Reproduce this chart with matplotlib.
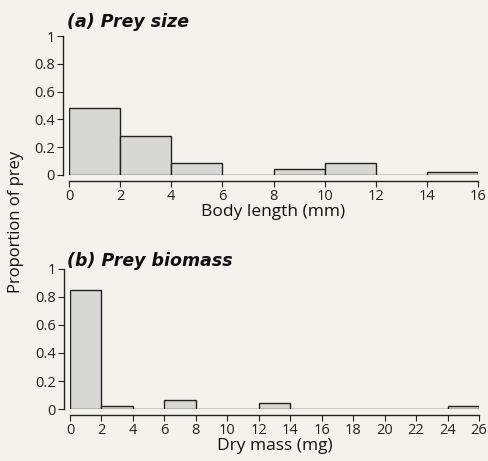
import matplotlib
matplotlib.use("Agg")
import matplotlib.pyplot as plt
import numpy as np

plt.rcParams['font.family'] = ['Open Sans', 'DejaVu Sans']

# Panel (a): body length bins (mm)
len_edges = [0, 2, 4, 6, 8, 10, 12, 14]
len_props = [0.48, 0.283, 0.086, 0.0, 0.042, 0.085, 0.0, 0.019]
len_ticks = [0, 2, 4, 6, 8, 10, 12, 14, 16]

# Panel (b): dry mass bins (mg)
mass_edges = [0, 2, 4, 6, 8, 10, 12, 14, 16, 18, 20, 22, 24]
mass_props = [0.847, 0.02, 0.0, 0.064, 0.0, 0.0, 0.045, 0.0, 0.0, 0.0, 0.0, 0.0, 0.02]
mass_ticks = list(range(0, 27, 2))

y_ticks = [0, 0.2, 0.4, 0.6, 0.8, 1]
y_labels = ["0", "0.2", "0.4", "0.6", "0.8", "1"]

bg = "#f3f2ec"
W, H = 488, 461
fig = plt.figure(figsize=(W/100, H/100), dpi=100, facecolor=bg)

def make_ax(l, r, b, t):
    return fig.add_axes([l/W, 1-b/H, (r-l)/W, (b-t)/H])

ax1 = make_ax(69, 478, 175, 36)
ax2 = make_ax(70, 479, 409, 269)

def style(ax, edges, props, ticks, xmax, xlabel):
    ax.set_facecolor(bg)
    ax.bar(edges, props, width=2, align='edge', color="#d7d7d3",
           edgecolor="#222222", linewidth=1.0)
    ax.set_xlim(0, xmax)
    ax.set_ylim(0, 1)
    for s in ['top', 'right']:
        ax.spines[s].set_visible(False)
    ax.spines['left'].set_position(('outward', 4.3))
    ax.spines['bottom'].set_position(('outward', 4.3))
    for s in ['left', 'bottom']:
        ax.spines[s].set_linewidth(1.0)
        ax.spines[s].set_color("#222222")
    ax.set_xticks(ticks)
    ax.set_xticklabels([str(t) for t in ticks])
    ax.set_yticks(y_ticks)
    ax.set_yticklabels(y_labels)
    ax.tick_params(direction='out', length=4, width=0.8, labelsize=10.5,
                   colors="#222222", pad=2)
    ax.set_xlabel(xlabel, fontsize=12.5, color="#111111", labelpad=0)

style(ax1, len_edges, len_props, len_ticks, 16, "Body length (mm)")
style(ax2, mass_edges, mass_props, mass_ticks, 26, "Dry mass (mg)")

title_font = ['DejaVu Sans']
fig.text(67/W, 1-27/H, "(a) Prey size", fontsize=12.5, fontweight='bold',
         fontstyle='oblique', family=title_font, ha='left', va='baseline',
         color="#111111")
fig.text(67/W, 1-266/H, "(b) Prey biomass", fontsize=12.5, fontweight='bold',
         fontstyle='oblique', family=title_font, ha='left', va='baseline',
         color="#111111")
fig.text(16/W, 1-222/H, "Proportion of prey", fontsize=12, rotation=90,
         ha='center', va='center', color="#111111")

fig.savefig("out.png", dpi=100, facecolor=bg)
